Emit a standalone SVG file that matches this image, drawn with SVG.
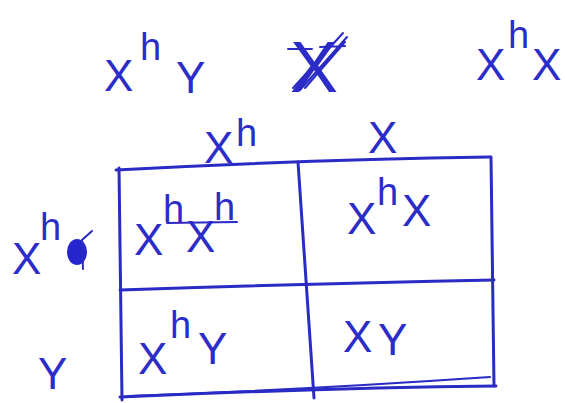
<svg xmlns="http://www.w3.org/2000/svg" width="565" height="403" viewBox="0 0 565 403">
<style>
.t{font-family:"Liberation Sans",Arial,sans-serif;fill:#2c2cc8;}
.b{font-size:44px;}
.s{font-size:38px;}
.ln{stroke:#2a2ac4;stroke-width:3;fill:none;stroke-linecap:round;}
.th{stroke:#2a2ac4;stroke-width:2;fill:none;stroke-linecap:round;}
</style>
<rect width="565" height="403" fill="#fff"/>
<g id="parents">
<g id="p1"><text class="t b" x="104" y="91">X</text><text class="t s" x="140" y="60">h</text><text class="t b" x="176" y="93">Y</text></g>
<g id="cross"><text class="t" style="font-size:72px" x="290" y="92">X</text><path class="th" d="M293 88 L343 33 M300 90 L347 37 M305 88 L345 42 M288 49 L312 49 M320 47 L345 46"/></g>
<g id="p2"><text class="t b" x="476" y="80">X</text><text class="t s" x="508" y="48">h</text><text class="t b" x="532" y="80">X</text></g>
</g>
<g id="grid">
<path class="ln" d="M116 170 Q300 160 490 157"/>
<path class="ln" d="M119 168 L122 400"/>
<path class="ln" d="M298 162 L314 398"/>
<path class="ln" d="M491 157 L494 386"/>
<path class="ln" d="M120 290 Q300 284 494 280"/>
<path class="ln" d="M120 397 Q320 388 496 386"/>
<path class="th" d="M128 396 Q300 390 490 377"/>
</g>
<g id="headers">
<g id="h1"><text class="t b" x="204" y="163">X</text><text class="t s" x="236" y="146">h</text></g>
<g id="h2"><text class="t b" x="368" y="153">X</text></g>
<g id="r1"><text class="t b" x="12" y="274">X</text><text class="t s" x="40" y="240">h</text><ellipse cx="77" cy="252" rx="10" ry="13" fill="#2626d0"/><path class="th" d="M83 269 L82 240 L92 231"/></g>
<g id="r2"><text class="t b" x="38" y="389">Y</text></g>
</g>
<g id="cells">
<g id="c1"><text class="t b" x="134" y="255">X</text><text class="t s" x="163" y="222">h</text><text class="t b" x="186" y="252">X</text><text class="t s" x="214" y="220">h</text><path class="th" d="M167 223 L237 222"/></g>
<g id="c2"><text class="t b" x="347" y="234">X</text><text class="t s" x="377" y="205">h</text><text class="t b" x="402" y="226">X</text></g>
<g id="c3"><text class="t b" x="138" y="374">X</text><text class="t s" x="170" y="338">h</text><text class="t b" x="198" y="364">Y</text></g>
<g id="c4"><text class="t b" x="343" y="352">X</text><text class="t b" x="378" y="355">Y</text></g>
</g>
</svg>
